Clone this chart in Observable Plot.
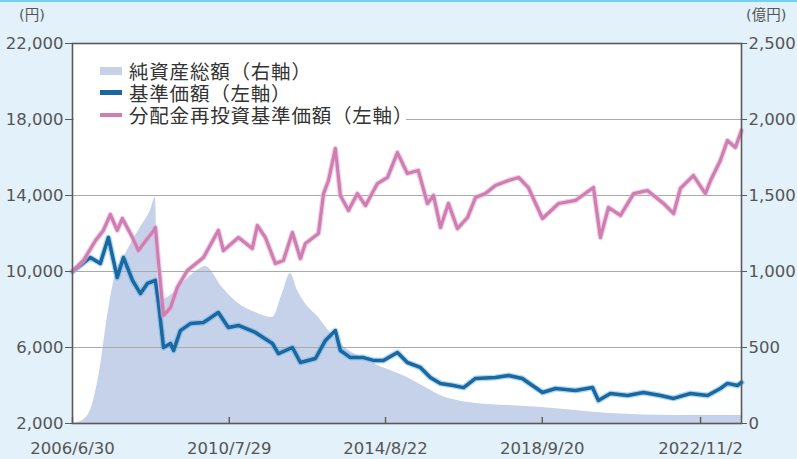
<!DOCTYPE html>
<html><head><meta charset="utf-8">
<script src="https://cdn.jsdelivr.net/npm/d3@7"></script>
<script src="https://cdn.jsdelivr.net/npm/@observablehq/plot@0.6"></script>
<style>
html,body{margin:0;padding:0;background:#e2f1fa;}
#wrap{position:relative;width:797px;height:459px;overflow:hidden;font-family:"DejaVu Sans","Noto Sans CJK JP",sans-serif;}
#topbar{position:absolute;left:0;top:0;width:797px;height:2px;background:#72d0f0;}
.unit{position:absolute;top:7px;font-size:14.5px;line-height:17px;height:17px;color:#555;white-space:nowrap;}
#legend{position:absolute;left:74px;top:45px;width:332px;height:78px;background:#fff;}
.row{position:absolute;left:26px;height:21px;display:flex;align-items:center;font-family:"Noto Sans CJK JP",sans-serif;font-size:19.5px;color:#333;white-space:nowrap;}
.row .tx{display:inline-block;height:21px;line-height:21px;overflow:visible;letter-spacing:0.8px;}
.sw{display:inline-block;width:22px;margin-right:7px;}
</style></head>
<body><div id="wrap"><div id="topbar"></div></div>
<script>
// ---- data ----
const pinkDates = ["2006-06-30","2006-10-12","2007-02-04","2007-04-19","2007-06-25","2007-08-29","2007-10-17","2008-01-21","2008-03-17","2008-06-11","2008-07-28","2008-08-26","2008-09-25","2008-11-11","2009-01-17","2009-03-22","2009-06-26","2009-11-26","2010-04-16","2010-06-03","2010-10-24","2011-03-05","2011-04-22","2011-07-07","2011-10-10","2011-12-25","2012-03-20","2012-06-04","2012-07-21","2012-11-23","2013-01-10","2013-02-26","2013-05-02","2013-06-19","2013-09-04","2013-11-28","2014-02-13","2014-06-06","2014-09-10","2014-12-13","2015-03-17","2015-06-29","2015-09-24","2015-11-21","2016-01-26","2016-04-11","2016-07-05","2016-10-09","2016-12-24","2017-03-28","2017-07-01","2017-11-03","2018-02-07","2018-05-10","2018-09-22","2019-02-22","2019-08-01","2020-01-19","2020-03-25","2020-06-10","2020-10-02","2021-02-04","2021-06-15","2021-11-15","2022-02-19","2022-04-24","2022-08-26","2022-12-18","2023-02-05","2023-05-09","2023-07-15","2023-09-29","2023-11-26"];
const pinkValues = [10000,10580,11630,12160,13000,12160,12790,11790,11100,11740,12050,12320,10420,7680,8100,9160,10050,10740,12160,11100,11790,11210,12420,11790,10420,10580,12050,10680,11470,12000,14100,14790,16470,14000,13210,14100,13470,14630,14950,16260,15160,15320,13580,14000,12320,13580,12260,12840,13890,14100,14530,14790,14950,14420,12790,13580,13740,14420,11790,13370,12950,14100,14260,13580,13050,14370,15050,14100,14790,15840,16890,16530,17420];

const blueDates = ["2006-06-30","2006-12-17","2007-03-21","2007-06-06","2007-08-29","2007-10-27","2008-01-21","2008-04-06","2008-06-11","2008-08-26","2008-09-25","2008-11-11","2009-01-17","2009-02-15","2009-04-20","2009-07-24","2009-11-26","2010-04-16","2010-07-20","2010-10-24","2011-04-03","2011-09-12","2011-11-08","2012-03-20","2012-06-04","2012-10-25","2013-01-28","2013-05-02","2013-06-19","2013-09-23","2014-01-25","2014-04-28","2014-08-02","2014-12-13","2015-03-17","2015-07-19","2015-10-22","2016-01-26","2016-05-28","2016-09-02","2016-12-24","2017-07-01","2017-11-03","2018-03-14","2018-06-18","2018-09-22","2019-01-23","2019-08-01","2020-01-10","2020-03-06","2020-06-28","2020-12-08","2021-05-08","2021-10-17","2022-02-19","2022-07-28","2023-01-07","2023-05-09","2023-07-15","2023-10-18","2023-11-26"];
const blueValues = [10000,10740,10420,11790,9680,10740,9530,8840,9370,9530,8320,6000,6210,5840,6890,7260,7320,7840,7050,7160,6790,6210,5680,6000,5210,5420,6370,6890,5840,5470,5470,5320,5320,5740,5210,4950,4420,4110,4000,3890,4370,4420,4530,4370,4000,3630,3840,3740,3890,3210,3580,3470,3630,3470,3320,3580,3470,3840,4110,4000,4160];

const aumDates = ["2006-06-30","2006-09-14","2006-12-17","2007-03-21","2007-05-27","2007-07-23","2007-12-04","2008-04-06","2008-07-10","2008-08-26","2008-09-25","2009-01-17","2009-06-07","2009-10-28","2009-12-15","2010-05-24","2010-10-24","2011-04-03","2011-09-12","2011-12-16","2012-03-01","2012-05-07","2012-07-21","2012-11-23","2013-02-26","2013-06-19","2014-04-28","2015-03-17","2015-09-24","2016-01-26","2016-07-05","2016-12-24","2017-11-03","2018-09-22","2019-08-01","2020-06-28","2022-03-26","2023-11-26"];
const aumValues = [0,13,86,368,697,921,1138,1290,1401,1487,809,842,941,1020,1033,895,789,730,697,855,987,875,789,697,612,526,395,303,230,184,151,132,118,105,86,66,53,53];

const xTickDates = ["2006-06-30","2010-07-29","2014-08-22","2018-09-20","2022-11-02"];
const xTickLabels = ["2006/6/30","2010/7/29","2014/8/22","2018/9/20","2022/11/2"];
const leftTicks = [2000,6000,10000,14000,18000,22000];
const rightTicks = [0,500,1000,1500,2000,2500];
const gridTicks = [6000,10000,14000,18000];
const seriesNames = ["純資産総額（右軸）","基準価額（左軸）","分配金再投資基準価額（左軸）"];
const unitLeft = "(円)";
const unitRight = "(億円)";

// ---- build ----
const parse = d3.utcParse("%Y-%m-%d");
const toLeft = v => leftTicks[0] + v * (leftTicks[5]-leftTicks[0])/rightTicks[5];
const pink = pinkDates.map((d,i)=>({date:parse(d), v:pinkValues[i]}));
const blue = blueDates.map((d,i)=>({date:parse(d), v:blueValues[i]}));
const aum = aumDates.map((d,i)=>({date:parse(d), v:toLeft(aumValues[i])}));
const xt = xTickDates.map(parse);

const chart = Plot.plot({
  width:797, height:459,
  marginLeft:72, marginRight:56, marginTop:43, marginBottom:36,
  style:{background:"transparent", fontFamily:"'DejaVu Sans','Noto Sans CJK JP',sans-serif", fontSize:"16.5px", color:"#555", overflow:"visible"},
  x:{type:"utc", domain:[parse("2006-06-30"), parse("2023-11-26")]},
  y:{domain:[leftTicks[0], leftTicks[5]]},
  marks:[
    Plot.frame({fill:"#fff", stroke:"none"}),
    Plot.areaY(aum, {x:"date", y1:leftTicks[0], y2:"v", fill:"#c6d2ea", curve:"monotone-x"}),
    Plot.ruleY(gridTicks, {stroke:"#a9a9a9", strokeWidth:1.2}),
    Plot.lineY(blue, {x:"date", y:"v", stroke:"#5fb3e6", strokeWidth:6, strokeOpacity:0.5}),
    Plot.lineY(blue, {x:"date", y:"v", stroke:"#1b67a0", strokeWidth:3.5}),
    Plot.lineY(pink, {x:"date", y:"v", stroke:"#e6b2d2", strokeWidth:5.5, strokeOpacity:0.6}),
    Plot.lineY(pink, {x:"date", y:"v", stroke:"#cf7db3", strokeWidth:3.2}),
    Plot.frame({stroke:"#5a5a5a", strokeWidth:1.6}),
    Plot.tickX(xt, {x:d=>d, stroke:"#5a5a5a", strokeWidth:1.4, insetTop:374}),
    Plot.axisY({anchor:"left", label:null, ticks:leftTicks, tickSize:7, tickPadding:2, tickFormat:d3.format(","), stroke:"#5a5a5a"}),
    Plot.axisY({anchor:"right", label:null, ticks:rightTicks.map(toLeft), tickSize:5, tickPadding:2, tickFormat:v=>d3.format(",")(Math.round((v-leftTicks[0])*rightTicks[5]/(leftTicks[5]-leftTicks[0]))), stroke:"#5a5a5a"}),
    Plot.axisX({label:null, ticks:xt, tickSize:0, tickPadding:19, tickFormat:d=>xTickLabels[xt.findIndex(t=>+t===+d)]})
  ]
});
const wrap = document.getElementById("wrap");
wrap.insertBefore(chart, wrap.firstChild);

const u1 = document.createElement("div"); u1.className="unit"; u1.style.left="19px"; u1.textContent=unitLeft; wrap.appendChild(u1);
const u2 = document.createElement("div"); u2.className="unit"; u2.style.left="746px"; u2.textContent=unitRight; wrap.appendChild(u2);

const lg = document.createElement("div"); lg.id="legend"; wrap.appendChild(lg);
const swStyles = [
  "height:8px;background:#c6d2ea;",
  "height:5px;background:#1b67a0;",
  "height:4px;background:#cf7db3;"
];
seriesNames.forEach((n,i)=>{
  const r = document.createElement("div"); r.className="row"; r.style.top=(15+i*22)+"px";
  r.innerHTML = `<span class="sw" style="${swStyles[i]}"></span><span class="tx">${n}</span>`;
  lg.appendChild(r);
});
</script></body></html>
